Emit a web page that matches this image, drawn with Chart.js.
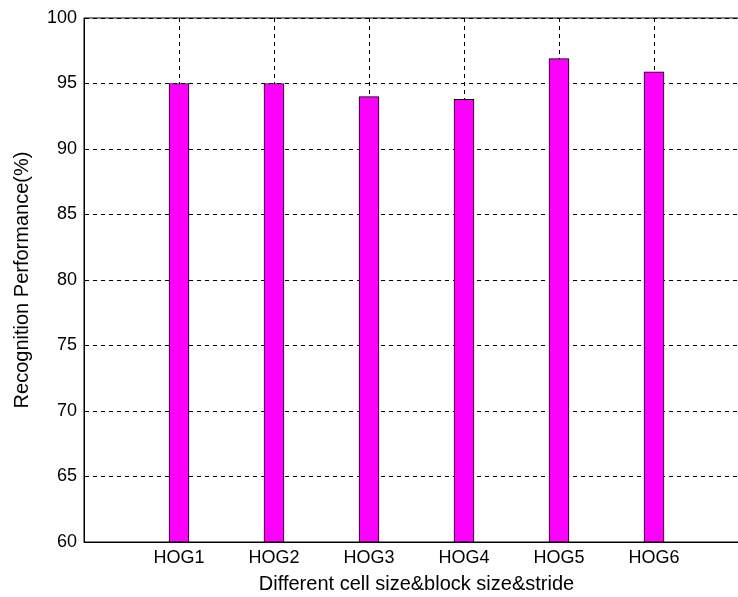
<!DOCTYPE html>
<html lang="en">
<head>
    <meta charset="UTF-8">
    <title>HOG recognition</title>
    <script src="https://cdn.jsdelivr.net/npm/chart.js@4.4.0/dist/chart.umd.min.js"></script>
    <style>
        html, body { margin: 0; padding: 0; background: #fff; overflow: hidden; }
        #wrap { width: 760px; height: 597px; }
    </style>
</head>
<body>
    <div id="wrap">
        <canvas id="barCanvas" width="760" height="597"></canvas>
    </div>
    <script>
        // data
        const hogLabels = ['HOG1', 'HOG2', 'HOG3', 'HOG4', 'HOG5', 'HOG6'];
        const hogPositions = [1, 2, 3, 4, 5, 6];
        const recognition = [95.0, 95.0, 94.0, 93.8, 96.9, 95.9];
        const yTicks = [60, 65, 70, 75, 80, 85, 90, 95, 100];

        const FONT = '"Liberation Sans", Arial, sans-serif';

        // box round the plot area (top + right sides)
        const frame = {
            id: 'frame',
            afterDatasetsDraw(chart) {
                const a = chart.chartArea;
                const c = chart.ctx;
                c.save();
                c.strokeStyle = '#000';
                c.lineWidth = 1;
                c.strokeRect(a.left, a.top, a.right - a.left, a.bottom - a.top);
                c.restore();
            }
        };

        const ctx = document.getElementById('barCanvas').getContext('2d');
        const barChart = new Chart(ctx, {
            type: 'bar',
            data: {
                datasets: [{
                    data: hogPositions.map((x, i) => ({ x: x, y: recognition[i] })),
                    backgroundColor: '#FF00FF',
                    borderColor: '#000',
                    borderWidth: 1,
                    borderSkipped: false,
                    barThickness: 20
                }]
            },
            options: {
                responsive: false,
                animation: false,
                layout: { padding: { top: 18, right: 11, left: 0, bottom: 0 } },
                plugins: { legend: { display: false }, tooltip: { enabled: false } },
                scales: {
                    x: {
                        type: 'linear',
                        min: 0,
                        max: 7,
                        offset: false,
                        afterBuildTicks: (s) => { s.ticks = hogPositions.map(v => ({ value: v })); },
                        afterFit: (s) => { s.height = 55; },
                        grid: { offset: false, color: '#000', lineWidth: 1, drawTicks: false },
                        border: { display: true, color: '#000', width: 1, dash: [4, 4] },
                        ticks: {
                            padding: 5,
                            color: '#000',
                            font: { family: FONT, size: 18 },
                            callback: (v) => hogLabels[v - 1] || ''
                        },
                        title: {
                            display: true,
                            text: 'Different cell size&block size&stride',
                            color: '#000',
                            font: { family: FONT, size: 20 },
                            padding: { top: 0, bottom: 1 }
                        }
                    },
                    y: {
                        min: 60,
                        max: 100,
                        afterBuildTicks: (s) => { s.ticks = yTicks.map(v => ({ value: v })); },
                        afterFit: (s) => { s.width = 84; },
                        grid: { color: '#000', lineWidth: 1, drawTicks: false },
                        border: { display: true, color: '#000', width: 1, dash: [4, 4] },
                        ticks: {
                            padding: 7,
                            color: '#000',
                            font: { family: FONT, size: 18 }
                        },
                        title: {
                            display: true,
                            text: 'Recognition Performance(%)',
                            color: '#000',
                            font: { family: FONT, size: 20 },
                            padding: { top: 10, bottom: 0 }
                        }
                    }
                }
            },
            plugins: [frame]
        });
    </script>
</body>
</html>
